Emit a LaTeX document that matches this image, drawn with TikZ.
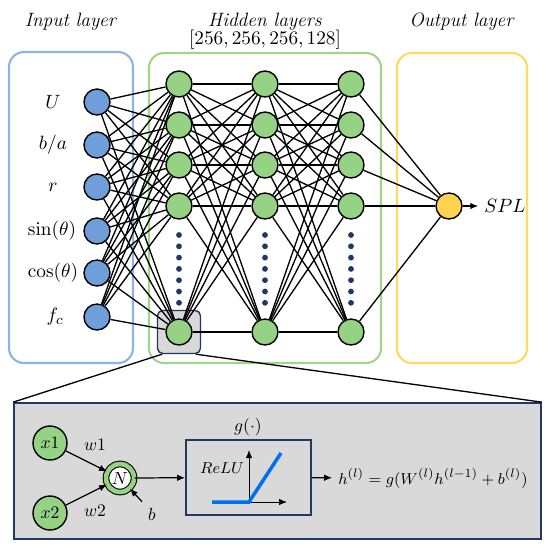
\documentclass[tikz,border=0pt]{standalone}
\usetikzlibrary{arrows.meta,positioning}
\usepackage{amsmath}
\definecolor{nodeblue}{RGB}{112,158,216}
\definecolor{nodegreen}{RGB}{150,210,132}
\definecolor{nodegold}{RGB}{255,210,80}
\definecolor{frameblue}{RGB}{142,180,227}
\definecolor{framegreen}{RGB}{160,214,138}
\definecolor{frameyellow}{RGB}{255,217,102}
\definecolor{panelgray}{RGB}{217,217,217}
\definecolor{navy}{RGB}{31,56,100}
\definecolor{relublue}{RGB}{0,112,240}

\begin{document}
\begin{tikzpicture}[
    x=0.02cm,y=-0.02cm,
    font=\fontsize{11}{13}\selectfont,
    neuron/.style={circle,draw,line width=0.8pt,minimum size=0.52cm,inner sep=0pt},
    inneuron/.style={neuron,fill=nodeblue},
    hidneuron/.style={neuron,fill=nodegreen},
    layerframe/.style={draw,line width=1.2pt,rounded corners=0.3cm},
    link/.style={line width=0.75pt},
    arrow/.style={-{Latex[length=1.6mm,width=1.3mm]},line width=0.7pt},
    dot/.style={circle,fill=navy,inner sep=0pt,minimum size=3.3pt},
    small/.style={font=\fontsize{10}{12}\selectfont}
]
    \useasboundingbox (0,0) rectangle (550,549);
    % layer frames and titles
    \draw[layerframe,frameblue] (9,52) rectangle (133,363);
    \draw[layerframe,framegreen] (149,53) rectangle (381,363);
    \draw[layerframe,frameyellow] (397,53) rectangle (527,363);
    \node (tin) at (71,22) {\textit{Input layer}};
    \node (thid) at (265,22) {\textit{Hidden layers}};
    \node (tsize) at (265,40) {$[256, 256, 256, 128]$};
    \node (tout) at (462,22) {\textit{Output layer}};
    % highlight of one neuron
    \node[draw=navy,fill=panelgray,line width=0.8pt,rounded corners=3pt,
          minimum width=0.86cm,minimum height=0.86cm] (hl) at (179,332) {};
    % input layer
    \node[inneuron] (in1) at (97,102) {};
    \node[inneuron] (in2) at (97,145) {};
    \node[inneuron] (in3) at (97,187) {};
    \node[inneuron] (in4) at (97,231) {};
    \node[inneuron] (in5) at (97,273) {};
    \node[inneuron] (in6) at (97,317) {};
    \node (lab1) at (53,102) {$U$};
    \node (lab2) at (53,145) {$b/a$};
    \node (lab3) at (53,187) {$r$};
    \node (lab4) at (52,231) {$\sin(\theta)$};
    \node (lab5) at (53,273) {$\cos(\theta)$};
    \node (lab6) at (55,317) {$f_c$};
    % hidden layers
    \foreach \l/\x in {a/179,b/265,c/351} {
        \foreach \i/\y in {1/84,2/125,3/165,4/206,5/332}
            \node[hidneuron] (h\l\i) at (\x,\y) {};
        \foreach \y in {235,246.3,...,304}
            \node[dot] at (\x,\y) {};
    }
    % output layer
    \node[neuron,fill=nodegold] (out) at (449,206) {};
    \node (spl) at (505,206) {$SPL$};
    \draw[arrow] (out) -- (spl.west);
    % connections
    \foreach \i in {1,...,6}
        \foreach \j in {1,...,5}
            \draw[link] (in\i) -- (ha\j);
    \foreach \i in {1,...,5}
        \foreach \j in {1,...,5} {
            \draw[link] (ha\i) -- (hb\j);
            \draw[link] (hb\i) -- (hc\j);
        }
    \foreach \i in {1,...,5}
        \draw[link] (hc\i) -- (out);
    % detail panel
    \node[draw=navy,fill=panelgray,line width=1pt,minimum width=10.54cm,
          minimum height=2.72cm,inner sep=0pt] (detail) at (277.5,471) {};
    \draw[link] ([xshift=3pt]hl.south west) -- (detail.north west);
    \draw[link] ([xshift=-3pt]hl.south east) -- (detail.north east);
    \node[neuron,small,fill=nodegreen,minimum size=0.68cm] (x1) at (50,443) {$x1$};
    \node[neuron,small,fill=nodegreen,minimum size=0.68cm] (x2) at (50,513) {$x2$};
    \node[circle,small,draw=black,line width=0.6pt,double=nodegreen,double distance=2.6pt,
          fill=white,minimum size=0.56cm,inner sep=0pt] (N) at (120,478) {$N$};
    \node[small] (w1) at (95,445) {$w1$};
    \node[small] (w2) at (95,511) {$w2$};
    \node[small] (bias) at (152,514) {$b$};
    \draw[arrow] (x1) -- (N);
    \draw[arrow] (x2) -- (N);
    \draw[arrow] (bias.north west) -- (N);
    \node[draw=navy,fill=panelgray,line width=1pt,minimum width=2.5cm,
          minimum height=1.5cm] (relu) at (248.5,477.5) {};
    \node[small] (gfun) at (248,427) {$g(\cdot)$};
    \node[font=\fontsize{9}{11}\selectfont] (relulab) at (222,468) {$ReLU$};
    \coordinate (ax0) at (249,502);
    \draw[arrow,line width=0.5pt] (212,502) -- (287,502);
    \draw[arrow,line width=0.5pt] (ax0) -- (249,450);
    \draw[relublue,line width=2pt] (212,502) -- (ax0) -- (281,453);
    \draw[arrow] (N) -- (relu);
    \node[font=\fontsize{9.5}{11}\selectfont] (hform) at (433,478)
        {$h^{(l)} = g(W^{(l)}h^{(l-1)} + b^{(l)})$};
    \draw[arrow] (relu) -- (hform);
\end{tikzpicture}
\end{document}
